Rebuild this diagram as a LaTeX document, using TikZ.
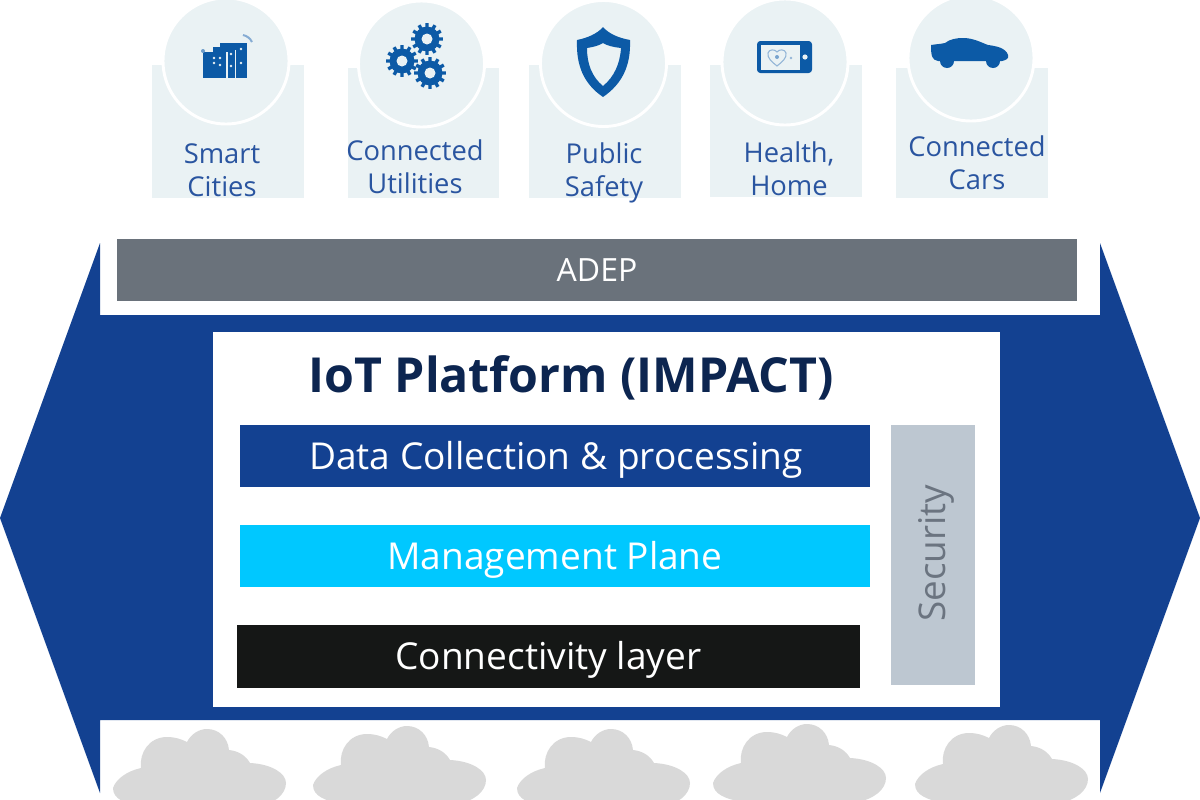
\documentclass[tikz,border=0pt]{standalone}
\usepackage{fontspec}
\setmainfont{Open Sans}
\usepackage{xcolor}
\usetikzlibrary{positioning,calc}

\definecolor{navy}{HTML}{134191}
\definecolor{iconblue}{HTML}{0C5AA6}
\definecolor{labelblue}{HTML}{2A55A0}
\definecolor{cardtint}{HTML}{EAF2F4}
\definecolor{adepgrey}{HTML}{6A727B}
\definecolor{secgrey}{HTML}{BDC7D1}
\definecolor{secink}{HTML}{6B7480}
\definecolor{skycyan}{HTML}{00C8FF}
\definecolor{nearblack}{HTML}{151716}
\definecolor{titleink}{HTML}{0C2550}
\definecolor{cloudgrey}{HTML}{D9D9D9}

\def\px{0.75pt}

\tikzset{
  card/.style={fill=cardtint, draw=none},
  dial/.style={fill=cardtint, draw=white, line width=2.2pt},
  caption/.style={text=labelblue, font=\fontsize{20.5}{24.8}\selectfont, align=center, inner sep=0pt},
  bar/.style={draw=none, inner sep=0pt, text=white, font=\fontsize{27.8}{32}\selectfont},
  bartext/.style={inner sep=0pt, text=white, font=\fontsize{27.8}{32}\selectfont, yshift=-2.6pt},
  icon/.style={fill=iconblue, draw=none},
  cloud/.style={fill=cloudgrey, draw=none}
}

\newcommand{\cloudat}[2]{
  \begin{scope}[shift={(#1,#2)}]
    \fill[cloud] (0,59) .. controls (3,50) and (14,42) .. (28,39)
      .. controls (26,24) and (36,8) .. (54,8)
      .. controls (62,8) and (68,10) .. (74,13)
      .. controls (78,5) and (86,0) .. (94,0)
      .. controls (106,0) and (115,9) .. (116,21)
      .. controls (126,22) and (133,27) .. (137,34)
      .. controls (158,35) and (173,44) .. (173,54)
      .. controls (173,66) and (160,75) .. (145,78)
      -- (30,78) .. controls (12,75) and (0,70) .. (0,59) -- cycle;
  \end{scope}
}

\newcommand{\gearat}[2]{
  \foreach \a in {0,30,...,330} {
    \fill[icon] ($(#1,#2)+(\a-9:11)$) -- ($(#1,#2)+(\a-6:16)$) -- ($(#1,#2)+(\a+6:16)$) -- ($(#1,#2)+(\a+9:11)$) -- cycle;
  }
  \fill[icon] (#1,#2) circle (12.5);
  \fill[cardtint] (#1,#2) circle (5.5);
}

\begin{document}
\begin{tikzpicture}[x=0.75pt, y=-0.75pt]
  \useasboundingbox (0,0) rectangle (1200,800);
  \clip (0,0) rectangle (1200,800);

  \fill[navy] (0,518) -- (100,243) -- (100,315) -- (1100,315) -- (1100,243) -- (1200,518)
    -- (1100,793) -- (1100,720) -- (100,720) -- (100,793) -- cycle;

  \fill[card] (152,65) rectangle (304,198);
  \fill[card] (348,68) rectangle (499,198);
  \fill[card] (529,65) rectangle (681,198);
  \fill[card] (710,65) rectangle (862,196.5);
  \fill[card] (896,68) rectangle (1048,198);

  \draw[dial] (226,61) circle (63);
  \draw[dial] (421.5,64) circle (63);
  \draw[dial] (603.5,63.5) circle (63);
  \draw[dial] (785,62) circle (63);
  \draw[dial] (971,58) circle (63);

  \fill[icon] (220,43) rectangle (247,78);
  \fill[cardtint] (217.5,45) rectangle (220,78);
  \fill[icon] (213,47) rectangle (235,78);
  \fill[cardtint] (211,50) rectangle (213,78);
  \fill[cardtint] (234.5,50) rectangle (236,78);
  \fill[icon] (203,52) rectangle (226,78);
  \fill[cardtint] (226,52) rectangle (227.5,78);
  \fill[iconblue!60] (203,51) circle (2);
  \draw[iconblue!50, line width=1.5pt] (243,35) .. controls (247,36) and (250,38) .. (252,42);
  \foreach \wx/\wy in {214/58, 220/58, 214/63, 220/65, 231/54, 231/66, 241/49, 241/63} {
    \fill[cardtint] (\wx,\wy) circle (1.4);
  }

  \gearat{402}{61}
  \gearat{427}{39}
  \gearat{430}{73}

  \fill[icon, even odd rule] (603,27) .. controls (597,34) and (587,38) .. (577,40)
      .. controls (576,66) and (584,84) .. (603,97)
      .. controls (622,84) and (631,66) .. (630,40)
      .. controls (619,38) and (609,34) .. (603,27) -- cycle
    (603,43) .. controls (598,46) and (593,47) .. (587,48)
      .. controls (587,64) and (592,77) .. (603,86)
      .. controls (614,77) and (620,64) .. (621,48)
      .. controls (613,47) and (608,46) .. (603,43) -- cycle;

  \fill[icon] (757,41) [rounded corners=2.5pt] rectangle (812,73);
  \fill[cardtint] (761,44.5) rectangle (800,70);
  \fill[cardtint] (805,57) circle (2.6);
  \draw[iconblue!45, line width=0.8pt] (777,66) .. controls (772,62) and (767,58) .. (768,53)
    .. controls (769,49) and (775,49) .. (777,52)
    .. controls (779,49) and (785,49) .. (786,53)
    .. controls (787,58) and (782,62) .. (777,66) -- cycle;
  \fill[iconblue!55] (777,57) circle (2);
  \fill[iconblue!45] (791,58) circle (1.3);

  \fill[icon] (931,45) .. controls (937,44) and (941,44) .. (945,43)
    .. controls (950,39) and (957,38) .. (963,38)
    .. controls (973,38) and (980,42) .. (988,45)
    .. controls (996,46) and (1006,48) .. (1008,55)
    .. controls (1009,59) and (1006,60) .. (1002,61)
    -- (938,61) .. controls (932,60) and (931,56) .. (931,45) -- cycle;
  \fill[icon] (947,61) circle (7);
  \fill[icon] (993,61) circle (7);

  \draw (222,170) node[caption] (smart) {Smart\\Cities};
  \draw (415,167) node[caption] (utilities) {Connected\\Utilities};
  \draw (604,173) node[caption] (safety) {Public\\Safety};
  \draw (789,168.5) node[caption] (health) {Health,\\Home};
  \draw (977,163) node[caption] (cars) {Connected\\Cars};

  \draw (597,270) node[bar, fill=adepgrey, minimum width=960*\px, minimum height=62*\px,
    font=\fontsize{24}{28}\selectfont] (adep) {ADEP};

  \draw (606.5,519.5) node[draw=none, fill=white, minimum width=787*\px, minimum height=375*\px, inner sep=0pt] (platform) {};
  \draw (571,377.5) node[inner sep=0pt, text=titleink, font=\fontsize{36.2}{42}\selectfont\bfseries] (title) {IoT Platform (IMPACT)};

  \draw (555,456) node[bar, fill=navy, minimum width=630*\px, minimum height=62*\px] (data) {};
  \draw (556,456) node[bartext] (datatext) {Data Collection \& processing};
  \draw (555,556) node[bar, fill=skycyan, minimum width=630*\px, minimum height=62*\px] (mgmt) {};
  \draw (555,556) node[bartext] (mgmttext) {Management Plane};
  \draw (548.5,656.5) node[bar, fill=nearblack, minimum width=623*\px, minimum height=63*\px] (conn) {};
  \draw (548.5,656.5) node[bartext] (conntext) {Connectivity layer};
  \draw (933,555) node[draw=none, fill=secgrey, minimum width=84*\px, minimum height=260*\px, inner sep=0pt] (secbox) {};
  \draw (936.5,553) node[rotate=90, inner sep=0pt, text=secink, font=\fontsize{27.6}{32}\selectfont] (security) {Security};

  \cloudat{113}{729}
  \cloudat{313}{726}
  \cloudat{517}{729}
  \cloudat{713}{724}
  \cloudat{915}{725}
\end{tikzpicture}
\end{document}
